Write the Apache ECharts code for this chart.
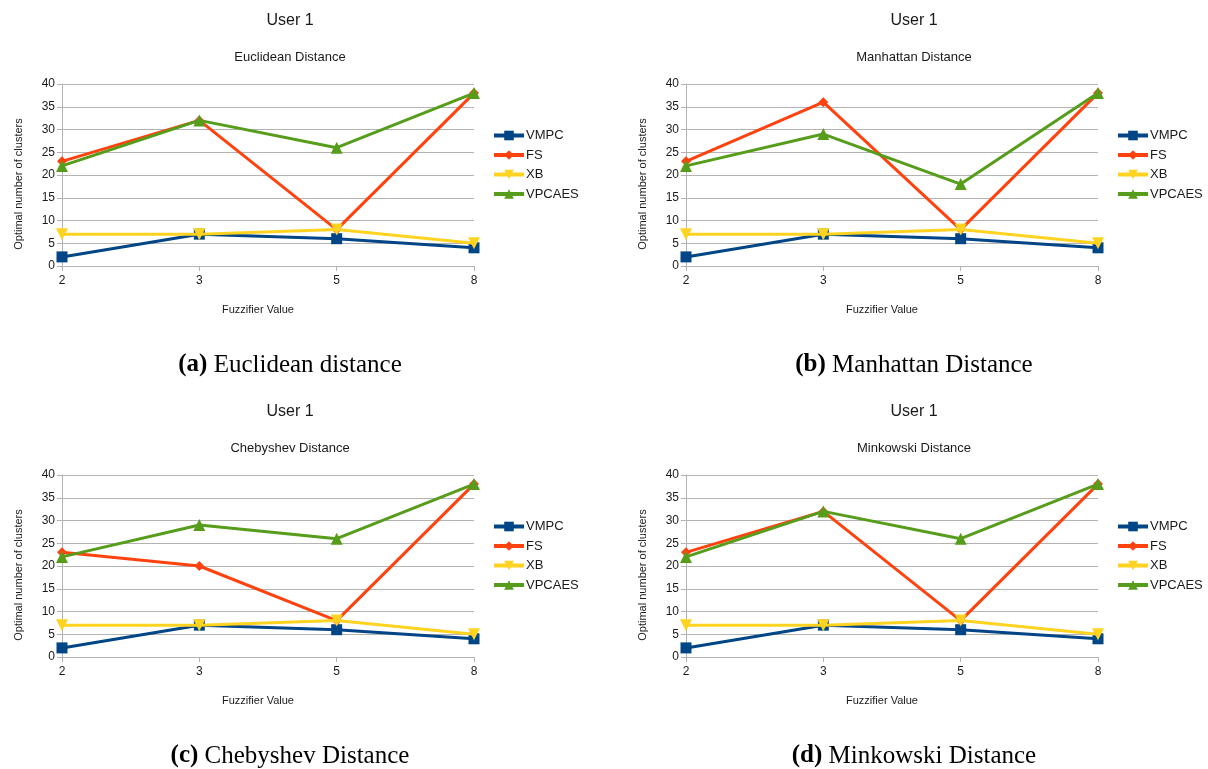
<!DOCTYPE html>
<html>
<head>
<meta charset="utf-8">
<script src="https://cdn.jsdelivr.net/npm/echarts@6/dist/echarts.min.js"></script>
<style>
html,body{margin:0;padding:0;background:#fff;}
#c{width:1208px;height:769px;}
</style>
</head>
<body>
<div id="c"></div>
<script>
const categories = ['2', '3', '5', '8'];
const yTicks = [0, 5, 10, 15, 20, 25, 30, 35, 40];
const seriesNames = ['VMPC', 'FS', 'XB', 'VPCAES'];

const euclideanVMPC = [2, 7, 6, 4];
const euclideanFS = [23, 32, 8, 38];
const euclideanXB = [7, 7, 8, 5];
const euclideanVPCAES = [22, 32, 26, 38];

const manhattanVMPC = [2, 7, 6, 4];
const manhattanFS = [23, 36, 8, 38];
const manhattanXB = [7, 7, 8, 5];
const manhattanVPCAES = [22, 29, 18, 38];

const chebyshevVMPC = [2, 7, 6, 4];
const chebyshevFS = [23, 20, 8, 38];
const chebyshevXB = [7, 7, 8, 5];
const chebyshevVPCAES = [22, 29, 26, 38];

const minkowskiVMPC = [2, 7, 6, 4];
const minkowskiFS = [23, 32, 8, 38];
const minkowskiXB = [7, 7, 8, 5];
const minkowskiVPCAES = [22, 32, 26, 38];

const panelTitles = ['Euclidean Distance', 'Manhattan Distance', 'Chebyshev Distance', 'Minkowski Distance'];
const captionTags = ['(a)', '(b)', '(c)', '(d)'];
const captionTexts = ['Euclidean distance', 'Manhattan Distance', 'Chebyshev Distance', 'Minkowski Distance'];
const panelData = [
  [euclideanVMPC, euclideanFS, euclideanXB, euclideanVPCAES],
  [manhattanVMPC, manhattanFS, manhattanXB, manhattanVPCAES],
  [chebyshevVMPC, chebyshevFS, chebyshevXB, chebyshevVPCAES],
  [minkowskiVMPC, minkowskiFS, minkowskiXB, minkowskiVPCAES]
];

const colors = ['#004586', '#ff420e', '#ffd320', '#579d1c'];
const symbols = ['rect', 'diamond', 'triangle', 'triangle'];
const symbolRot = [0, 0, 180, 0];
const symbolSizes = [11, 10, 12, 12];

const panelLeft = [62, 686, 62, 686];
const panelTop = [84, 84, 475, 475];
const plotW = 412, plotH = 182;
const txt = '#1a1a1a';
const gridCol = '#b3b3b3';
const sans = 'Liberation Sans, Arial, sans-serif';
const serif = 'Liberation Serif, DejaVu Serif, serif';

const grids = [], xAxes = [], yAxes = [], series = [], legends = [], graphics = [];
for (let p = 0; p < 4; p++) {
  grids.push({left: panelLeft[p], top: panelTop[p], width: plotW, height: plotH, containLabel: false});
  xAxes.push({
    type: 'category', gridIndex: p, data: categories, boundaryGap: false,
    name: 'Fuzzifier Value', nameLocation: 'middle', nameGap: 38,
    nameTextStyle: {fontFamily: sans, fontSize: 11, color: txt, padding: [0, 20, 0, 0]},
    axisLine: {show: true, lineStyle: {color: gridCol, width: 1}},
    axisTick: {show: true, length: 5, inside: false, lineStyle: {color: gridCol}, alignWithLabel: true},
    axisLabel: {fontFamily: sans, fontSize: 12, color: txt, margin: 9},
    splitLine: {show: false}
  });
  yAxes.push({
    type: 'value', gridIndex: p, min: yTicks[0], max: yTicks[yTicks.length - 1], interval: yTicks[1] - yTicks[0],
    name: 'Optimal number of clusters', nameLocation: 'middle', nameGap: 38, nameRotate: 90,
    nameTextStyle: {fontFamily: sans, fontSize: 11, color: txt, padding: [0, 18, 0, 0]},
    axisLine: {show: true, lineStyle: {color: gridCol, width: 1}},
    axisTick: {show: true, length: 5, lineStyle: {color: gridCol}},
    axisLabel: {fontFamily: sans, fontSize: 12, color: txt, margin: 7},
    splitLine: {show: true, lineStyle: {color: gridCol, width: 1}}
  });
  for (let s = 0; s < 4; s++) {
    series.push({
      type: 'line', name: seriesNames[s], xAxisIndex: p, yAxisIndex: p,
      data: panelData[p][s],
      symbol: symbols[s], symbolRotate: symbolRot[s], symbolSize: symbolSizes[s],
      showAllSymbol: true,
      lineStyle: {color: colors[s], width: 3},
      itemStyle: {color: colors[s], borderWidth: 0},
      emphasis: {disabled: true},
      z: 2 + s
    });
  }
  legends.push({
    orient: 'vertical', left: panelLeft[p] + 425, top: panelTop[p] + 40,
    data: seriesNames, itemWidth: 30, itemHeight: 12, itemGap: 6.5,
    lineStyle: {width: 4},
    textStyle: {fontFamily: sans, fontSize: 13, color: txt, padding: [0, 0, 0, -3]},
    selectedMode: false
  });
  const cx = panelLeft[p] + 228;
  const t0 = panelTop[p];
  graphics.push({
    type: 'text', x: cx, y: t0 - 63,
    style: {text: 'User 1', x: 0, y: 0, textAlign: 'center', textVerticalAlign: 'middle', fontFamily: sans, fontSize: 16, fill: txt}
  });
  graphics.push({
    type: 'text', x: cx, y: t0 - 27,
    style: {text: panelTitles[p], x: 0, y: 0, textAlign: 'center', textVerticalAlign: 'middle', fontFamily: sans, fontSize: 13, fill: txt}
  });
  graphics.push({
    type: 'text', x: cx, y: t0 + 281,
    style: {
      text: '{b|' + captionTags[p] + '} ' + captionTexts[p], x: 0, y: 0,
      textAlign: 'center', textVerticalAlign: 'middle',
      fontFamily: serif, fontSize: 25, fill: '#000',
      rich: {b: {fontFamily: serif, fontSize: 25, fontWeight: 'bold', fill: '#000'}}
    }
  });
}

const chart = echarts.init(document.getElementById('c'), null, {renderer: 'canvas'});
chart.setOption({
  backgroundColor: '#fff',
  animation: false,
  grid: grids,
  xAxis: xAxes,
  yAxis: yAxes,
  legend: legends,
  series: series,
  graphic: graphics
});
</script>
</body>
</html>
